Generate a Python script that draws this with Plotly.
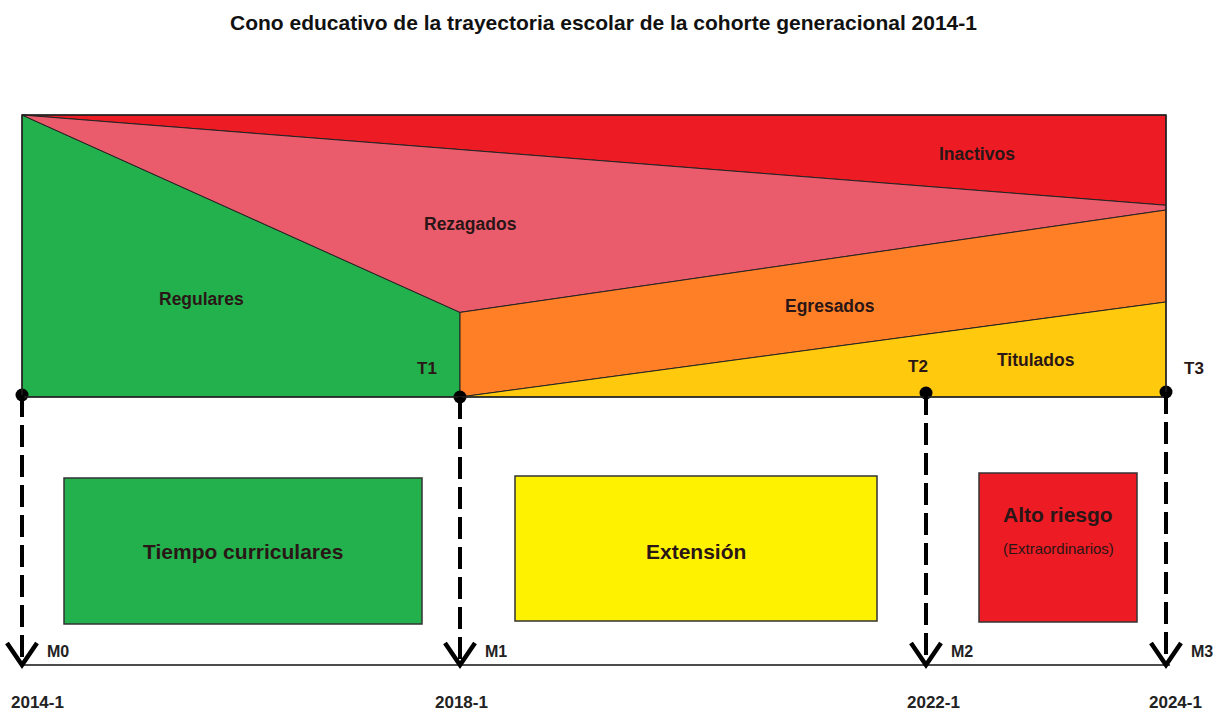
import plotly.graph_objects as go

# ---------------- data ----------------
title = "Cono educativo de la trayectoria escolar de la cohorte generacional 2014-1"
milestones = ["M0", "M1", "M2", "M3"]
periods = ["2014-1", "2018-1", "2022-1", "2024-1"]
cut_labels = ["T1", "T2", "T3"]
# canvas position of each milestone (schematic time axis)
milestone_x = [22, 460, 926, 1166]
# cone boundaries, share of cohort measured from top of cone (0 = top, 1 = bottom)
regulares_top = [0.0, 0.70]          # at M0, M1
inactivos_bottom = [0.0, 0.32]       # at M0, M3
rezagados_bottom_right = 0.337       # at M3
egresados_top = [0.70, 0.337]        # at M1, M3
titulados_top = [1.0, 0.663]         # at M1, M3
cone_labels = ["Inactivos", "Rezagados", "Regulares", "Egresados", "Titulados"]
stage_boxes = ["Tiempo curriculares", "Extensión", "Alto riesgo"]
stage_sub = ["", "", "(Extraordinarios)"]

# ---------------- layout helpers ----------------
W, H = 1225, 715
TOP, BOT = 115, 397
x0, x1, x2, x3 = milestone_x
def yy(f):
    return TOP + f * (BOT - TOP)

FONT = "Liberation Sans Narrow, Arial Narrow, Liberation Sans, Arial, sans-serif"
TXT = "#2a1616"

fig = go.Figure()

def poly(xs, ys, color):
    fig.add_trace(go.Scatter(x=xs + [xs[0]], y=ys + [ys[0]], mode="lines", fill="toself",
                             fillcolor=color, line=dict(color="#222", width=1),
                             hoverinfo="skip", showlegend=False))

# Regulares (green)
poly([x0, x1, x1, x0], [yy(regulares_top[0]), yy(regulares_top[1]), BOT, BOT], "#22B14C")
# Inactivos (red)
poly([x0, x3, x3], [yy(inactivos_bottom[0]), TOP, yy(inactivos_bottom[1])], "#ED1C24")
# Rezagados (pink)
poly([x0, x3, x3, x1], [TOP, yy(inactivos_bottom[1]), yy(rezagados_bottom_right), yy(egresados_top[0])], "#EA5B6C")
# Egresados (orange)
poly([x1, x3, x3, x1], [yy(egresados_top[0]), yy(egresados_top[1]), yy(titulados_top[1]), yy(titulados_top[0])], "#FF7F27")
# Titulados (yellow)
poly([x1, x3, x3], [yy(titulados_top[0]), yy(titulados_top[1]), BOT], "#FFC90E")

# outline of cone
fig.add_shape(type="rect", x0=x0, x1=x3, y0=TOP, y1=BOT, line=dict(color="#222", width=1.5))

# cone labels
cone_pos = [(977, 154), (470, 224), (201, 299), (830, 306), (1036, 360)]
for lab, (px, py) in zip(cone_labels, cone_pos):
    fig.add_annotation(x=px, y=py, text=f"<b>{lab}</b>", showarrow=False,
                       font=dict(family=FONT, size=17.5, color=TXT))
for lab, (px, py) in zip(cut_labels, [(427, 368), (918, 366), (1194, 368)]):
    fig.add_annotation(x=px, y=py, text=f"<b>{lab}</b>", showarrow=False,
                       font=dict(family=FONT, size=17, color=TXT))

# timeline line
ARROW_Y = 665
fig.add_shape(type="line", x0=x0, x1=x3 + 4, y0=ARROW_Y, y1=ARROW_Y, line=dict(color="#111", width=1.5))

# dashed arrows + heads
dot_y = [395, 397, 393, 392]
for mx, dy in zip(milestone_x, dot_y):
    fig.add_shape(type="line", x0=mx, x1=mx, y0=dy, y1=ARROW_Y - 6,
                  line=dict(color="#000", width=4, dash="22px,8px"))
    fig.add_shape(type="path", path=f"M {mx-15},{ARROW_Y-22} L {mx},{ARROW_Y} L {mx+15},{ARROW_Y-22}",
                  line=dict(color="#000", width=4.5))
fig.add_trace(go.Scatter(x=milestone_x, y=dot_y, mode="markers",
                         marker=dict(color="#000", size=13), hoverinfo="skip", showlegend=False))

# milestone labels and periods
for mx, lab in zip(milestone_x, milestones):
    fig.add_annotation(x=mx + 36, y=651, text=f"<b>{lab}</b>", showarrow=False,
                       font=dict(family=FONT, size=16, color="#222"))
for mx, lab, ox in zip(milestone_x, periods, [15, 1, 7, 9]):
    fig.add_annotation(x=mx + ox, y=702, text=f"<b>{lab}</b>", showarrow=False,
                       font=dict(family=FONT, size=17, color="#222"))

# stage boxes
boxes = [(64, 422, 478, 624, "#22B14C"), (515, 877, 476, 621, "#FFF200"), (979, 1137, 473, 622, "#ED1C24")]
for (bx0, bx1, by0, by1, col), lab, sub in zip(boxes, stage_boxes, stage_sub):
    fig.add_shape(type="rect", x0=bx0, x1=bx1, y0=by0, y1=by1, fillcolor=col,
                  line=dict(color="#333", width=1.5))
    cx = (bx0 + bx1) / 2
    if sub:
        fig.add_annotation(x=cx, y=514, text=f"<b>{lab}</b>", showarrow=False,
                           font=dict(family=FONT, size=21, color=TXT))
        fig.add_annotation(x=cx, y=548, text=sub, showarrow=False,
                           font=dict(family=FONT, size=15, color=TXT))
    else:
        fig.add_annotation(x=cx, y=551, text=f"<b>{lab}</b>", showarrow=False,
                           font=dict(family=FONT, size=21, color=TXT))

# title
fig.add_annotation(x=603, y=22, text=f"<b>{title}</b>", showarrow=False,
                   font=dict(family=FONT, size=21, color="#111"))

fig.update_xaxes(range=[0, W], visible=False, fixedrange=True)
fig.update_yaxes(range=[H, 0], visible=False, fixedrange=True)
fig.update_layout(width=W, height=H, margin=dict(l=0, r=0, t=0, b=0),
                  paper_bgcolor="white", plot_bgcolor="white")

fig.write_html("out.html", config={"displayModeBar": False},
               post_script="document.body.style.margin='0px';")
